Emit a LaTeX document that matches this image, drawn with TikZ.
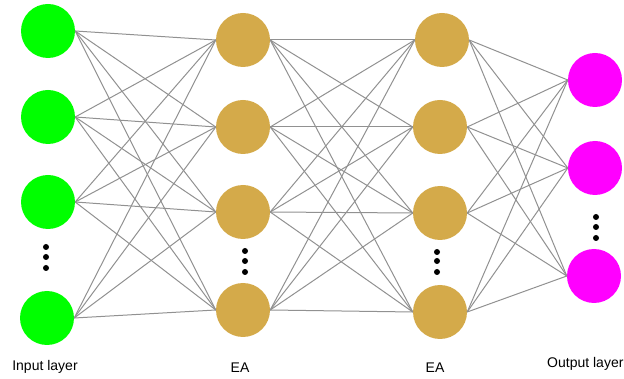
\documentclass[tikz,border=0pt]{standalone}
\usepackage{fontspec}
\setmainfont{Liberation Sans}
\definecolor{ingreen}{RGB}{0,255,0}
\definecolor{eagold}{RGB}{212,170,74}
\definecolor{outmag}{RGB}{255,0,255}
\definecolor{edgegray}{RGB}{145,145,145}
\begin{document}
\begin{tikzpicture}[x=1pt,y=-1pt,
  neuron/.style={circle,inner sep=0pt,minimum size=54pt,draw=none},
  innode/.style={neuron,fill=ingreen},
  eanode/.style={neuron,fill=eagold},
  outnode/.style={neuron,fill=outmag},
  conn/.style={draw=edgegray,line width=1pt},
  vdot/.style={circle,fill=black,inner sep=0pt,minimum size=6pt},
  lbl/.style={font=\fontsize{14}{16}\selectfont,inner sep=0pt}]
\useasboundingbox (0,0) rectangle (624,379);
% input layer
\node[innode] (i1) at (48,31) {};
\node[innode] (i2) at (48,117) {};
\node[innode] (i3) at (48,202) {};
\node[innode] (i4) at (47,318) {};
% EA 1
\node[eanode] (a1) at (243,40) {};
\node[eanode] (a2) at (243,127) {};
\node[eanode] (a3) at (243,212) {};
\node[eanode] (a4) at (243,310) {};
% EA 2
\node[eanode] (b1) at (442,40) {};
\node[eanode] (b2) at (440,127) {};
\node[eanode] (b3) at (440,213) {};
\node[eanode] (b4) at (440,312) {};
% output
\node[outnode] (o1) at (595,80) {};
\node[outnode] (o2) at (595,168) {};
\node[outnode] (o3) at (594,276) {};
% connections
\foreach \s in {1,2,3,4}{
  \foreach \t in {1,2,3,4}{
    \draw[conn] (i\s.east) -- (a\t.west);
    \draw[conn] (a\s.east) -- (b\t.west);
  }
  \foreach \t in {1,2,3}{
    \draw[conn] (b\s.east) -- (o\t.west);
  }
}
% dots
\node[vdot] (di1) at (46,247) {};
\node[vdot] (di2) at (46,257) {};
\node[vdot] (di3) at (46,268) {};
\node[vdot] (da1) at (245,251) {};
\node[vdot] (da2) at (245,261) {};
\node[vdot] (da3) at (245,272) {};
\node[vdot] (db1) at (437,252) {};
\node[vdot] (db2) at (437,261) {};
\node[vdot] (db3) at (437,272) {};
\node[vdot] (do1) at (596,217) {};
\node[vdot] (do2) at (596,227) {};
\node[vdot] (do3) at (596,238) {};
% labels
\node[lbl] (l1) at (45,367) {Input layer};
\node[lbl] (l2) at (240,368) {EA};
\node[lbl] (l3) at (435,368) {EA};
\node[lbl,anchor=west] (l4) at (547,364) {Output layer};
\end{tikzpicture}
\end{document}
